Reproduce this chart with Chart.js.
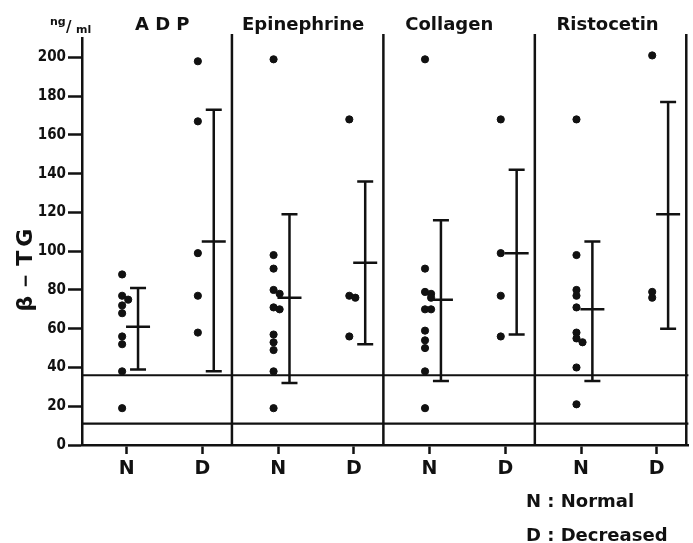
<!DOCTYPE html>
<html>
<head>
<meta charset="utf-8">
<title>beta-TG</title>
<script src="https://cdn.jsdelivr.net/npm/chart.js@4.4.1/dist/chart.umd.min.js"></script>
<style>
  html, body { margin: 0; padding: 0; background: #fff; }
  #wrap { width: 693px; height: 543px; }
</style>
</head>
<body>
<div id="wrap"><canvas id="chart" width="693" height="543"></canvas></div>
<script>
/* --- DATA --- */

const agents = ['A D P', 'Epinephrine', 'Collagen', 'Ristocetin'];
const groupLabels = ['N', 'D', 'N', 'D', 'N', 'D', 'N', 'D'];
const yTicks = [0, 20, 40, 60, 80, 100, 120, 140, 160, 180, 200];

// individual values (ng/ml)
const adpN = [88, 77, 75, 72, 68, 56, 52, 38, 19];
const adpD = [198, 167, 99, 77, 58];
const epiN = [199, 98, 91, 80, 78, 71, 70, 57, 53, 49, 38, 19];
const epiD = [168, 77, 76, 56];
const colN = [199, 91, 79, 78, 76, 70, 70, 59, 54, 50, 38, 19];
const colD = [168, 99, 77, 56];
const risN = [168, 98, 80, 77, 71, 58, 55, 53, 40, 21];
const risD = [201, 79, 76];

// mean and +/- SD per group, same order as groupLabels
const meanValues = [61, 105, 76, 94, 75, 99, 70, 119];
const sdUpper = [81, 173, 119, 136, 116, 142, 105, 177];
const sdLower = [39, 38, 32, 52, 33, 57, 33, 60];

// normal range band (ng/ml)
const normalRange = [11, 36];

const unitLabel = ['ng', 'ml'];
const yTitle = 'β－TG';
const legendLines = ['N : Normal', 'D : Decreased'];

/* --- BUILD --- */

const groupValues = [adpN, adpD, epiN, epiD, colN, colD, risN, risD];
const INK = '#111';
const NARROW = "'DejaVu Sans Condensed', 'DejaVu Sans', sans-serif";
const WIDE = "'DejaVu Sans', sans-serif";
const DOT_SHIFT = -0.06;
const BAR_SHIFT = 0.15;
const TITLE_SHIFT = [0.47, 0.33, 0.26, 0.35];

// dots that sit on (nearly) the same value are nudged sideways
const points = [];
groupValues.forEach((vals, i) => {
    vals.forEach((v, j) => {
        const near = vals.slice(0, j).filter(p => Math.abs(p - v) < 3).length;
        points.push({ x: i + 1 + DOT_SHIFT + near * 0.08, y: v });
    });
});

// frame: normal range lines and panel separators
const framePlugin = {
    id: 'frame',
    beforeDatasetsDraw(chart) {
        const { ctx, chartArea: { left, right, top, bottom }, scales: { x, y } } = chart;
        ctx.save();
        ctx.strokeStyle = INK;
        ctx.lineWidth = 2.2;
        normalRange.forEach(v => {
            const py = y.getPixelForValue(v);
            ctx.beginPath();
            ctx.moveTo(left, py);
            ctx.lineTo(right, py);
            ctx.stroke();
        });
        ctx.lineWidth = 2.5;
        agents.forEach((a, k) => {
            const px = x.getPixelForValue(2 * k + 2.39);
            ctx.beginPath();
            ctx.moveTo(px, top - 4);
            ctx.lineTo(px, bottom);
            ctx.stroke();
        });
        ctx.restore();
    }
};

// mean +/- SD bars
const errorBarPlugin = {
    id: 'errorBars',
    afterDatasetsDraw(chart) {
        const { ctx, scales: { x, y } } = chart;
        ctx.save();
        ctx.strokeStyle = INK;
        ctx.lineWidth = 2.5;
        meanValues.forEach((m, i) => {
            const px = x.getPixelForValue(i + 1 + BAR_SHIFT);
            const yHi = y.getPixelForValue(sdUpper[i]);
            const yLo = y.getPixelForValue(sdLower[i]);
            const yM = y.getPixelForValue(m);
            ctx.beginPath();
            ctx.moveTo(px, yHi); ctx.lineTo(px, yLo);
            ctx.moveTo(px - 8, yHi); ctx.lineTo(px + 8, yHi);
            ctx.moveTo(px - 8, yLo); ctx.lineTo(px + 8, yLo);
            ctx.moveTo(px - 12, yM); ctx.lineTo(px + 12, yM);
            ctx.stroke();
        });
        ctx.restore();
    }
};

// panel titles, unit, y title and the N/D key
const labelsPlugin = {
    id: 'labels',
    afterDraw(chart) {
        const { ctx, scales: { x } } = chart;
        ctx.save();
        ctx.fillStyle = INK;
        ctx.textBaseline = 'alphabetic';

        ctx.font = "bold 18px " + WIDE;
        ctx.textAlign = 'center';
        agents.forEach((a, k) => {
            ctx.fillText(a, x.getPixelForValue(2 * k + 1 + TITLE_SHIFT[k]), 30);
        });

        // ng/ml
        ctx.textAlign = 'left';
        ctx.font = "bold 11px " + WIDE;
        ctx.fillText(unitLabel[0], 50, 25);
        ctx.font = "bold 15px " + WIDE;
        ctx.fillText('/', 66, 32);
        ctx.font = "bold 11px " + WIDE;
        ctx.fillText(unitLabel[1], 76, 33);

        // y axis title
        ctx.save();
        ctx.translate(32, 268);
        ctx.rotate(-Math.PI / 2);
        ctx.textAlign = 'center';
        ctx.font = "bold 22px " + WIDE;
        ctx.letterSpacing = '4px';
        ctx.fillText(yTitle, 0, 0);
        ctx.restore();

        // key
        ctx.font = "bold 18px " + WIDE;
        ctx.textAlign = 'left';
        ctx.fillText(legendLines[0], 526, 507);
        ctx.fillText(legendLines[1], 526, 541);
        ctx.restore();
    }
};

new Chart(document.getElementById('chart'), {
    type: 'scatter',
    data: {
        datasets: [{
            data: points,
            backgroundColor: INK,
            borderColor: INK,
            pointRadius: 3.6,
            pointHoverRadius: 3.6
        }]
    },
    options: {
        responsive: false,
        animation: false,
        layout: { padding: { top: 38, right: 0, left: 0, bottom: 0 } },
        plugins: {
            legend: { display: false },
            tooltip: { enabled: false }
        },
        scales: {
            x: {
                type: 'linear',
                min: 0.41,
                max: 8.418,
                afterBuildTicks: axis => { axis.ticks = groupLabels.map((g, i) => ({ value: i + 1 })); },
                afterFit: axis => { axis.height = 98; },
                ticks: {
                    color: INK,
                    font: { family: WIDE, size: 19, weight: 'bold' },
                    padding: 4,
                    maxRotation: 0,
                    callback: (v, i) => groupLabels[i]
                },
                grid: { drawOnChartArea: false, tickLength: 9, tickColor: INK, tickWidth: 2.5 },
                border: { display: true, color: INK, width: 2.5 }
            },
            y: {
                min: 0,
                max: 210,
                afterBuildTicks: axis => { axis.ticks = yTicks.map(v => ({ value: v })); },
                afterFit: axis => { axis.width = 82; },
                ticks: {
                    color: INK,
                    font: { family: NARROW, size: 15, weight: 'bold' },
                    padding: 2
                },
                grid: { drawOnChartArea: false, tickLength: 14, tickColor: INK, tickWidth: 2.5 },
                border: { display: true, color: INK, width: 2.5 }
            }
        }
    },
    plugins: [framePlugin, errorBarPlugin, labelsPlugin]
});
</script>
</body>
</html>
